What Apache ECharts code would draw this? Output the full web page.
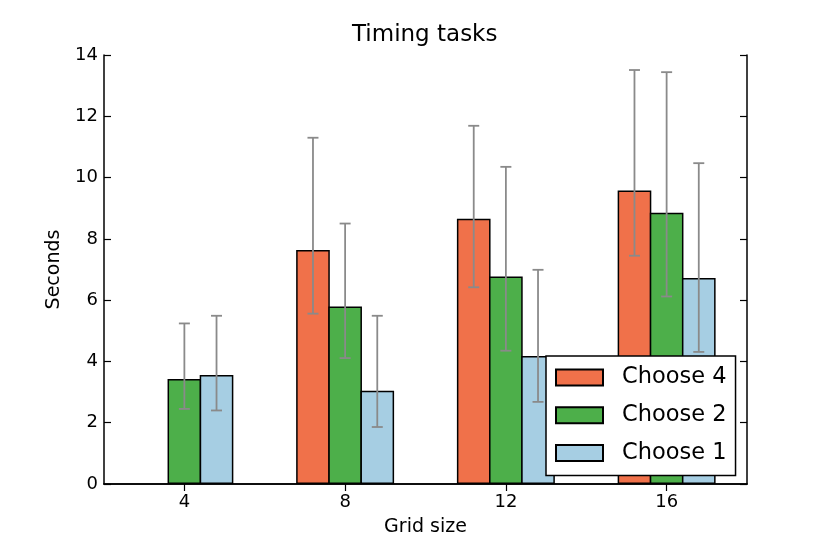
<!DOCTYPE html>
<html>
<head>
<meta charset="utf-8">
<script src="https://cdn.jsdelivr.net/npm/echarts@6/dist/echarts.min.js"></script>
<style>
html,body{margin:0;padding:0;background:#fff;}
#c{width:830px;height:554px;}
</style>
</head>
<body>
<div id="c"></div>
<script>
// ---- data ----
const categories = ['4', '8', '12', '16'];
const seriesNames = ['Choose 4', 'Choose 2', 'Choose 1'];
const choose4 = [null, 7.64, 8.66, 9.58];
const choose2 = [3.43, 5.79, 6.77, 8.85];
const choose1 = [3.56, 3.04, 4.18, 6.72];
const choose4Low  = [null, 5.56, 6.42, 7.45];
const choose4High = [null, 11.30, 11.69, 13.51];
const choose2Low  = [2.45, 4.11, 4.35, 6.12];
const choose2High = [5.24, 8.50, 10.35, 13.44];
const choose1Low  = [2.40, 1.86, 2.68, 4.31];
const choose1High = [5.49, 5.49, 6.99, 10.47];
const yTicks = [0, 2, 4, 6, 8, 10, 12, 14];

// ---- styles ----
const colors = ['#f0714a', '#4daf4a', '#a6cee3'];
const FONT = 'DejaVu Sans';
const barFrac = 0.2;
const BORDER = 1.5;

const values = [choose4, choose2, choose1];
const lows = [choose4Low, choose2Low, choose1Low];
const highs = [choose4High, choose2High, choose1High];

const chart = echarts.init(document.getElementById('c'), null, {renderer: 'canvas'});

// plot width / categories -> band width in px (grid left 104, right 83)
const bandPx = (830 - 104 - 83) / categories.length;
const barPx = bandPx * barFrac + BORDER;

const barSeries = seriesNames.map((name, i) => ({
  name: name,
  type: 'bar',
  data: values[i],
  barWidth: barPx,
  barGap: (-BORDER / barPx * 100).toFixed(2) + '%',
  itemStyle: {color: colors[i], borderColor: '#000', borderWidth: BORDER},
  emphasis: {disabled: true},
  z: 2
}));

const errSeries = seriesNames.map((name, i) => {
  const offset = i - 1;
  const data = [];
  for (let k = 0; k < categories.length; k++) {
    if (lows[i][k] != null) data.push([k, lows[i][k], highs[i][k]]);
  }
  return {
    type: 'custom',
    name: name + ' err',
    data: data,
    z: 5,
    silent: true,
    renderItem: function (params, api) {
      const ci = api.value(0);
      const lo = api.coord([ci, api.value(1)]);
      const hi = api.coord([ci, api.value(2)]);
      const band = api.size([1, 0])[0];
      const x = lo[0] + offset * band * barFrac;
      const cap = 5.5;
      const st = {stroke: '#8a8a8a', lineWidth: 1.8};
      return {
        type: 'group',
        children: [
          {type: 'line', shape: {x1: x, y1: lo[1], x2: x, y2: hi[1]}, style: st},
          {type: 'line', shape: {x1: x - cap, y1: lo[1], x2: x + cap, y2: lo[1]}, style: st},
          {type: 'line', shape: {x1: x - cap, y1: hi[1], x2: x + cap, y2: hi[1]}, style: st}
        ]
      };
    }
  };
});

const axisLine = {show: true, lineStyle: {color: '#000', width: 1.5}};
const tickStyle = {show: true, inside: true, length: 7, lineStyle: {color: '#000', width: 1.2}};

chart.setOption({
  animation: false,
  backgroundColor: '#fff',
  title: {
    text: 'Timing tasks',
    left: 352,
    top: 24,
    padding: 0,
    textStyle: {fontFamily: FONT, fontSize: 23, fontWeight: 'normal', color: '#000'}
  },
  legend: {
    data: seriesNames,
    orient: 'vertical',
    left: 546,
    top: 356,
    padding: [10, 9, 11, 9],
    itemWidth: 47,
    itemHeight: 16,
    itemGap: 14.7,
    icon: 'rect',
    backgroundColor: '#fff',
    borderColor: '#000',
    borderWidth: 1.5,
    borderRadius: 0,
    selectedMode: false,
    textStyle: {fontFamily: FONT, fontSize: 22.5, color: '#000', lineHeight: 22, padding: [0, 0, 0, 14]},
    z: 10
  },
  grid: {left: 104, right: 83, top: 55, bottom: 70, containLabel: false},
  xAxis: [
    {
      type: 'category',
      data: categories,
      position: 'bottom',
      axisLine: axisLine,
      axisTick: Object.assign({alignWithLabel: true}, tickStyle),
      axisLabel: {fontFamily: FONT, fontSize: 18, color: '#000', margin: 9},
      splitLine: {show: false},
      name: 'Grid size',
      nameLocation: 'middle',
      nameGap: 34,
      nameTextStyle: {fontFamily: FONT, fontSize: 19, color: '#000'}
    },
    {
      type: 'category',
      data: categories,
      position: 'top',
      axisLine: axisLine,
      axisTick: Object.assign({alignWithLabel: true}, tickStyle),
      axisLabel: {show: false},
      splitLine: {show: false}
    }
  ],
  yAxis: [
    {
      type: 'value',
      min: yTicks[0],
      max: yTicks[yTicks.length - 1],
      interval: 2,
      position: 'left',
      axisLine: axisLine,
      axisTick: tickStyle,
      axisLabel: {fontFamily: FONT, fontSize: 18, color: '#000', margin: 6},
      splitLine: {show: false},
      name: 'Seconds',
      nameLocation: 'middle',
      nameGap: 40,
      nameRotate: 90,
      nameTextStyle: {fontFamily: FONT, fontSize: 19, color: '#000'}
    },
    {
      type: 'value',
      min: yTicks[0],
      max: yTicks[yTicks.length - 1],
      interval: 2,
      position: 'right',
      axisLine: axisLine,
      axisTick: tickStyle,
      axisLabel: {show: false},
      splitLine: {show: false}
    }
  ],
  series: barSeries.concat(errSeries)
});
</script>
</body>
</html>
